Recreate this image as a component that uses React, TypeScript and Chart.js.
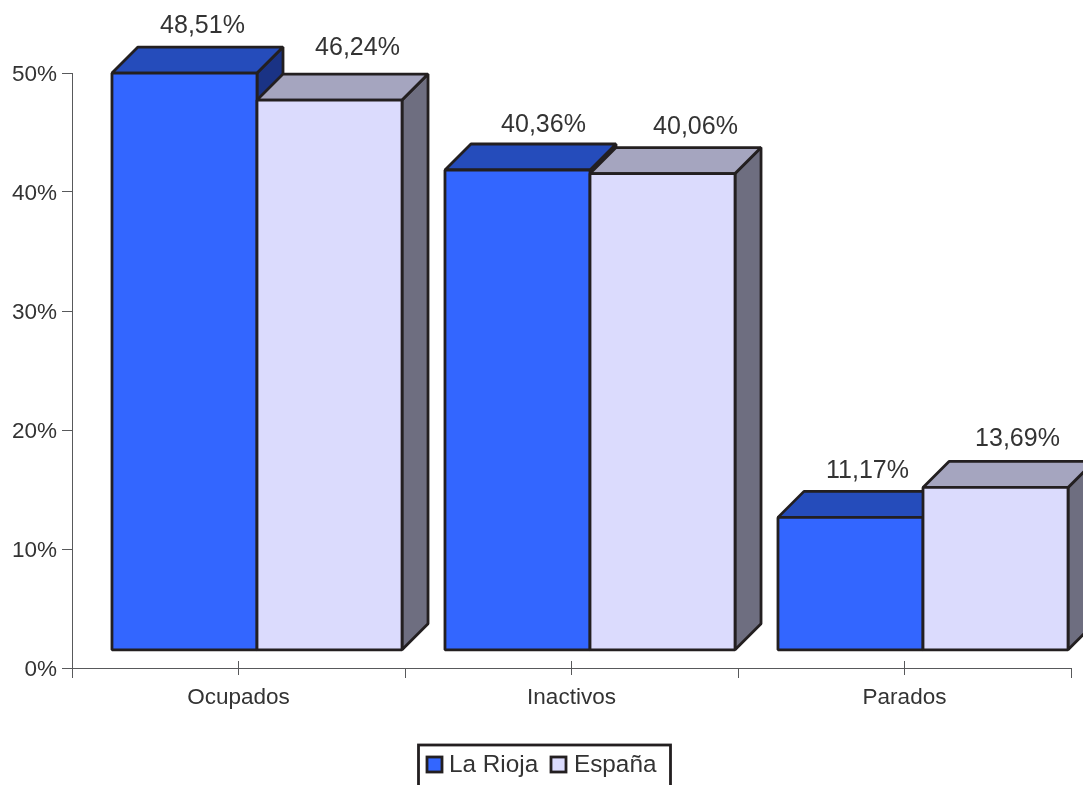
import React, { useEffect, useRef } from "react";
import { Chart, registerables } from "chart.js";

Chart.register(...registerables);

const categories = ["Ocupados", "Inactivos", "Parados"];
const laRioja = [48.51, 40.36, 11.17];
const espana = [46.24, 40.06, 13.69];
const seriesNames = ["La Rioja", "España"];
const yMax = 50;
const yStep = 10;

const fontFamily = '"Liberation Sans", Arial, sans-serif';
const ink = "#231f20";
const textColor = "#333333";
const axisColor = "#58595b";
const faces = [
  { front: "#3366ff", top: "#254cbb", side: "#1a3385" },
  { front: "#dbdbfd", top: "#a5a5bf", side: "#6e6e80" },
];
const shiftX = 18.5;
const shiftY = 17.7;
const depth = 26;
const labelNudges = [
  [[-8, 2], [2, -3]],
  [[0, 4], [7, 3]],
  [[-9, 3], [-4, 1]],
];

function poly(ctx: CanvasRenderingContext2D, pts: number[][], fill: string) {
  ctx.beginPath();
  pts.forEach(([x, y], i) => (i ? ctx.lineTo(x, y) : ctx.moveTo(x, y)));
  ctx.closePath();
  ctx.fillStyle = fill;
  ctx.fill();
  ctx.stroke();
}

const bars3d = {
  id: "bars3d",
  beforeDatasetsDraw(chart: any) {
    const { ctx } = chart;
    ctx.save();
    ctx.strokeStyle = ink;
    ctx.lineWidth = 2.8;
    ctx.lineJoin = "bevel";
    categories.forEach((_, i) => {
      chart.data.datasets.forEach((_d: any, d: number) => {
        const el = chart.getDatasetMeta(d).data[i];
        const l = el.x - el.width / 2 + shiftX;
        const r = el.x + el.width / 2 + shiftX;
        const t = el.y - shiftY;
        const b = el.base - shiftY;
        const c = faces[d];
        poly(ctx, [[r, t], [r + depth, t - depth], [r + depth, b - depth], [r, b]], c.side);
        poly(ctx, [[l, t], [l + depth, t - depth], [r + depth, t - depth], [r, t]], c.top);
        poly(ctx, [[l, t], [r, t], [r, b], [l, b]], c.front);
      });
    });
    ctx.restore();
    return false;
  },
  afterDraw(chart: any) {
    const { ctx } = chart;
    ctx.save();
    ctx.font = `25px ${fontFamily}`;
    ctx.fillStyle = textColor;
    ctx.textAlign = "center";
    ctx.textBaseline = "middle";
    categories.forEach((_, i) => {
      chart.data.datasets.forEach((ds: any, d: number) => {
        const el = chart.getDatasetMeta(d).data[i];
        const [nx, ny] = labelNudges[i][d];
        const txt = ds.data[i].toFixed(2).replace(".", ",") + "%";
        ctx.fillText(txt, el.x + shiftX + depth + nx, el.y - shiftY - depth - 23 + ny);
      });
    });
    // centre ticks on the category axis
    const x = chart.scales.x;
    ctx.strokeStyle = axisColor;
    ctx.lineWidth = 1;
    categories.forEach((_, i) => {
      const px = Math.floor(x.getPixelForValue(i)) + 0.5;
      ctx.beginPath();
      ctx.moveTo(px, x.top - 7);
      ctx.lineTo(px, x.top + 7);
      ctx.stroke();
    });
    // legend
    ctx.font = `24.3px ${fontFamily}`;
    ctx.textAlign = "left";
    ctx.strokeStyle = ink;
    ctx.lineWidth = 2.8;
    ctx.strokeRect(418.5, 745, 252, 60);
    const items = [
      { box: 427, text: 449 },
      { box: 551, text: 574 },
    ];
    seriesNames.forEach((name, i) => {
      ctx.fillStyle = faces[i].front;
      ctx.fillRect(items[i].box, 757, 15, 15);
      ctx.strokeRect(items[i].box, 757, 15, 15);
      ctx.fillStyle = textColor;
      ctx.fillText(name, items[i].text, 765);
    });
    ctx.restore();
  },
};

export default function App() {
  const ref = useRef<HTMLCanvasElement>(null);
  useEffect(() => {
    const chart = new Chart(ref.current!, {
      type: "bar",
      plugins: [bars3d],
      data: {
        labels: categories,
        datasets: [
          { label: seriesNames[0], data: laRioja, backgroundColor: faces[0].front },
          { label: seriesNames[1], data: espana, backgroundColor: faces[1].front },
        ],
      },
      options: {
        animation: false,
        responsive: false,
        layout: { padding: { top: 73, right: 12, left: 0, bottom: 0 } },
        datasets: { bar: { barPercentage: 1, categoryPercentage: 0.871 } },
        plugins: { legend: { display: false }, tooltip: { enabled: false }, title: { display: false } },
        scales: {
          x: {
            afterFit: (s: any) => { s.height = 117; },
            border: { color: axisColor, width: 1 },
            grid: { drawOnChartArea: false, drawTicks: true, tickLength: 10, color: axisColor, offset: true },
            ticks: { color: textColor, font: { family: fontFamily, size: 22.5 }, padding: 6, maxRotation: 0 },
          },
          y: {
            min: 0,
            max: yMax,
            afterFit: (s: any) => { s.width = 72; },
            border: { color: axisColor, width: 1 },
            grid: { drawOnChartArea: false, tickLength: 10, color: axisColor },
            ticks: {
              stepSize: yStep,
              color: textColor,
              font: { family: fontFamily, size: 22.5 },
              padding: 5,
              labelOffset: 2,
              callback: (v: any) => `${v}%`,
            },
          },
        },
      } as any,
    });
    return () => chart.destroy();
  }, []);
  return (
    <canvas
      ref={ref}
      width={1083}
      height={785}
      style={{ position: "fixed", left: 0, top: 0, width: 1083, height: 785, display: "block" }}
    />
  );
}
